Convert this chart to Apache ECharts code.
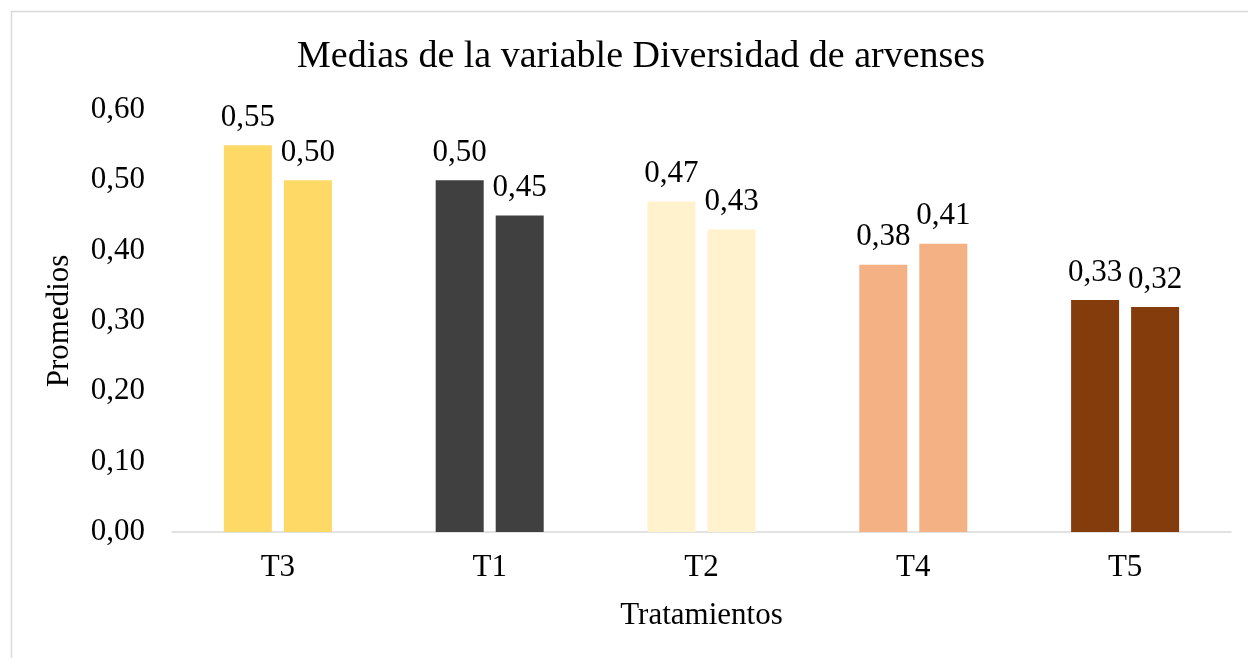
<!DOCTYPE html>
<html>
<head>
<meta charset="utf-8">
<script src="https://cdn.jsdelivr.net/npm/echarts@6/dist/echarts.min.js"></script>
<style>
  html, body { margin: 0; padding: 0; background: #fff; }
  #chart { width: 1248px; height: 658px; }
</style>
</head>
<body>
<div id="chart"></div>
<script>
  // categorias y valores
  var categories = ['T3', 'T1', 'T2', 'T4', 'T5']
  var serie1 = [0.55, 0.50, 0.47, 0.38, 0.33]
  var serie2 = [0.50, 0.45, 0.43, 0.41, 0.32]
  var barColors = ['#FFD966', '#404040', '#FFF2CC', '#F4B183', '#843C0C']

  var font = '"Liberation Serif", "Times New Roman", serif'
  var chart = echarts.init(document.getElementById('chart'))

  function fmt (v) {
    return v.toFixed(2).replace('.', ',')
  }

  function makeSeries (name, values) {
    return {
      name: name,
      type: 'bar',
      data: values,
      barGap: '25%',
      barCategoryGap: '49%',
      itemStyle: {
        color: function (p) { return barColors[p.dataIndex] }
      },
      label: {
        show: true,
        position: 'top',
        distance: 12,
        color: '#000',
        fontFamily: font,
        fontSize: 31,
        formatter: function (p) { return fmt(p.value) }
      }
    }
  }

  chart.setOption({
    backgroundColor: '#fff',
    animation: false,
    graphic: [{
      type: 'rect',
      shape: { x: 11.5, y: 11.5, width: 1400, height: 800 },
      style: { fill: 'none', stroke: '#d9d9d9', lineWidth: 1.5 },
      silent: true
    }],
    title: {
      text: 'Medias de la variable Diversidad de arvenses',
      left: 636,
      textAlign: 'center',
      top: 33,
      textStyle: {
        color: '#000',
        fontFamily: font,
        fontSize: 38,
        fontWeight: 'normal'
      }
    },
    grid: {
      left: 172,
      right: 17,
      top: 110,
      bottom: 126,
      containLabel: false
    },
    xAxis: {
      type: 'category',
      data: categories,
      name: 'Tratamientos',
      nameLocation: 'middle',
      nameGap: 68,
      nameTextStyle: { color: '#000', fontFamily: font, fontSize: 31 },
      axisLine: { lineStyle: { color: '#d9d9d9', width: 1.5 } },
      axisTick: { show: false },
      axisLabel: { color: '#000', fontFamily: font, fontSize: 31, margin: 20 }
    },
    yAxis: {
      type: 'value',
      min: 0,
      max: 0.6,
      interval: 0.1,
      name: 'Promedios',
      nameLocation: 'middle',
      nameGap: 97,
      nameTextStyle: { color: '#000', fontFamily: font, fontSize: 31 },
      axisLine: { show: false },
      axisTick: { show: false },
      splitLine: { show: false },
      axisLabel: {
        color: '#000',
        fontFamily: font,
        fontSize: 31,
        margin: 27,
        formatter: function (v) { return fmt(v) }
      }
    },
    series: [makeSeries('Serie 1', serie1), makeSeries('Serie 2', serie2)]
  })
</script>
</body>
</html>
